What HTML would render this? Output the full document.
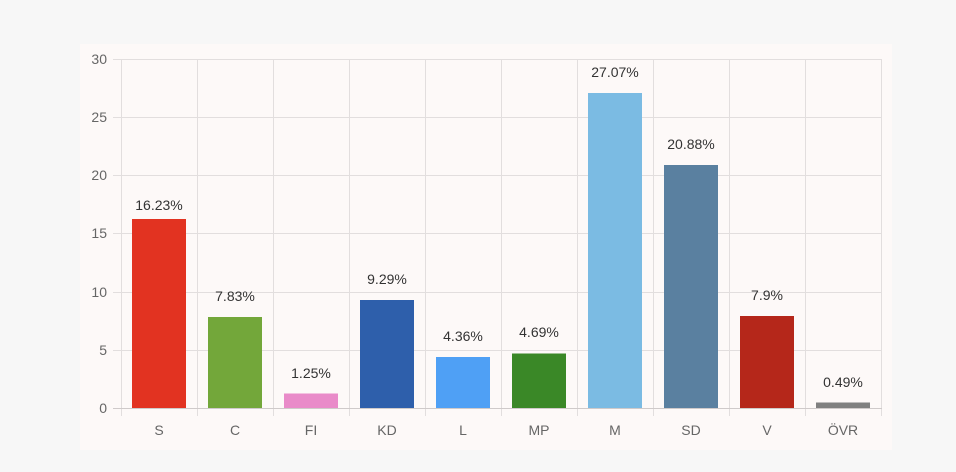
<!DOCTYPE html><html><head><style>body{margin:0;background:#f7f7f7;width:956px;height:472px;overflow:hidden}</style></head><body>
<svg width="956" height="472" style="position:absolute;left:0;top:0;font-family:'Liberation Sans',sans-serif">
<rect x="80" y="44" width="812" height="406" fill="#fdf9f8"/>
<g stroke="#e2dede" stroke-width="1">
<line x1="113" y1="59.5" x2="882" y2="59.5"/><line x1="113" y1="117.5" x2="882" y2="117.5"/><line x1="113" y1="175.5" x2="882" y2="175.5"/><line x1="113" y1="233.5" x2="882" y2="233.5"/><line x1="113" y1="292.5" x2="882" y2="292.5"/><line x1="113" y1="350.5" x2="882" y2="350.5"/>
<line x1="121.5" y1="59" x2="121.5" y2="416"/><line x1="197.5" y1="59" x2="197.5" y2="416"/><line x1="273.5" y1="59" x2="273.5" y2="416"/><line x1="349.5" y1="59" x2="349.5" y2="416"/><line x1="425.5" y1="59" x2="425.5" y2="416"/><line x1="501.5" y1="59" x2="501.5" y2="416"/><line x1="577.5" y1="59" x2="577.5" y2="416"/><line x1="653.5" y1="59" x2="653.5" y2="416"/><line x1="729.5" y1="59" x2="729.5" y2="416"/><line x1="805.5" y1="59" x2="805.5" y2="416"/><line x1="881.5" y1="59" x2="881.5" y2="416"/>
</g>
<line x1="113" y1="408.5" x2="882" y2="408.5" stroke="#cfcaca"/>
<g font-size="14" fill="#666" text-anchor="end">
<text x="107" y="64">30</text><text x="107" y="122">25</text><text x="107" y="180">20</text><text x="107" y="238">15</text><text x="107" y="297">10</text><text x="107" y="355">5</text><text x="107" y="413">0</text></g>
<g>
<rect x="132" y="219" width="54" height="189" fill="#e23321"/>
<rect x="208" y="317" width="54" height="91" fill="#73a73a"/>
<rect x="284" y="393.5" width="54" height="14.5" fill="#e98bc9"/>
<rect x="360" y="300" width="54" height="108" fill="#2e5fab"/>
<rect x="436" y="357" width="54" height="51" fill="#4fa0f5"/>
<rect x="512" y="353.5" width="54" height="54.5" fill="#3a8827"/>
<rect x="588" y="93" width="54" height="315" fill="#7bbbe3"/>
<rect x="664" y="165" width="54" height="243" fill="#5a80a0"/>
<rect x="740" y="316" width="54" height="92" fill="#b5271a"/>
<rect x="816" y="402.5" width="54" height="5.5" fill="#808080"/>
</g>
<g font-size="14" fill="#333" text-anchor="middle">
<text x="159" y="210">16.23%</text><text x="235" y="301">7.83%</text><text x="311" y="378">1.25%</text><text x="387" y="284">9.29%</text><text x="463" y="341">4.36%</text><text x="539" y="337">4.69%</text><text x="615" y="77">27.07%</text><text x="691" y="149">20.88%</text><text x="767" y="300">7.9%</text><text x="843" y="387">0.49%</text></g>
<g font-size="14" fill="#666" text-anchor="middle">
<text x="159" y="435">S</text><text x="235" y="435">C</text><text x="311" y="435">FI</text><text x="387" y="435">KD</text><text x="463" y="435">L</text><text x="539" y="435">MP</text><text x="615" y="435">M</text><text x="691" y="435">SD</text><text x="767" y="435">V</text><text x="843" y="435">ÖVR</text></g>
</svg></body></html>
